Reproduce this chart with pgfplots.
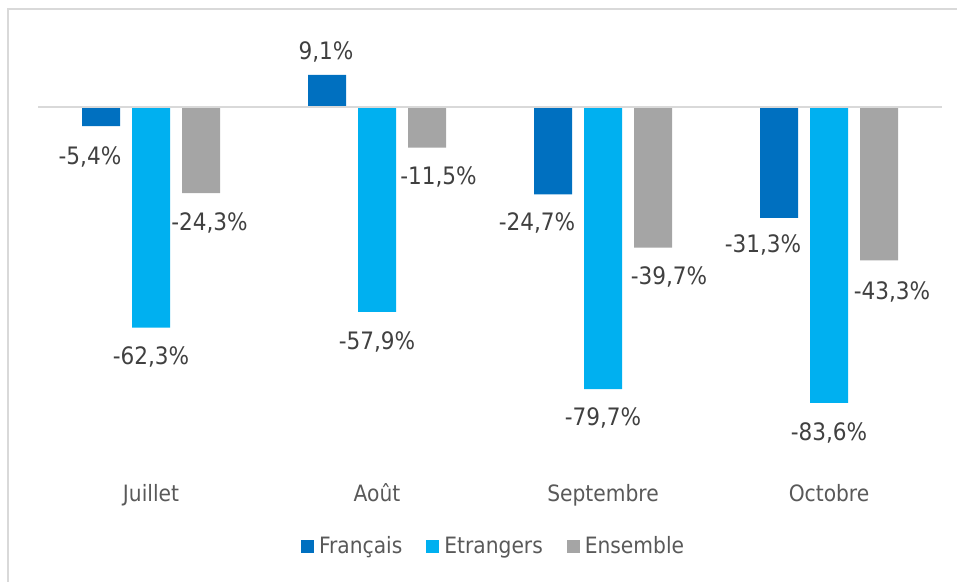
\documentclass[border=0pt]{standalone}
\usepackage{pgfplots}
\pgfplotsset{compat=1.18}
\usepackage{pgfplotstable}
\usepackage{fontspec}
\setmainfont{DejaVu Sans Condensed}
\definecolor{cFr}{HTML}{0070C0}
\definecolor{cEt}{HTML}{00B0F0}
\definecolor{cEn}{HTML}{A5A5A5}
\definecolor{lbl}{HTML}{404040}
\definecolor{axl}{HTML}{595959}
\definecolor{frm}{HTML}{D9D9D9}
\pgfplotstableread{
x y dx dy
0 -5.4 -11 -31
1 9.1 -1 23
2 -24.7 -16 -29
3 -31.3 -16 -27
}\francais
\pgfplotstableread{
x y dx dy
0 -62.3 0 -29.5
1 -57.9 0 -30
2 -79.7 0 -29
3 -83.6 0 -30
}\etrangers
\pgfplotstableread{
x y dx dy
0 -24.3 8.5 -30
1 -11.5 11.5 -29
2 -39.7 16 -29.5
3 -43.3 13 -32
}\ensemble
\begin{document}
\fontsize{22.5}{27}\selectfont
\begin{tikzpicture}
\useasboundingbox (0,0) rectangle (957pt,581pt);
\draw[frm, line width=2pt] (8pt,-5pt) -- (8pt,572pt) -- (962pt,572pt);
\begin{axis}[
  at={(38pt,120pt)}, anchor=south west,
  scale only axis, width=904pt, height=442.5pt,
  xmin=-0.5, xmax=3.5, ymin=-100, ymax=25,
  axis line style={draw=none},
  ytick=\empty,
  xtick={0,1,2,3},
  xticklabels={Juillet,Août,Septembre,Octobre},
  major tick length=0pt,
  xticklabel style={anchor=base, yshift=-40.7pt, text=axl, font=\fontsize{22.5}{27}\selectfont},
  ybar=12pt, bar width=38pt,
  every axis plot/.append style={draw=none},
  nodes near coords={\pgfmathprintnumber[fixed,fixed zerofill,precision=1,use comma,assume math mode=true]{\pgfplotspointmeta}\%},
  visualization depends on={\thisrow{dx} \as \dx},
  visualization depends on={\thisrow{dy} \as \dy},
  every node near coord/.append style={anchor=center, xshift=\dx pt, yshift=\dy pt, text=lbl, font=\fontsize{24}{28}\selectfont},
  legend style={at={(0.504,-0.194)}, anchor=center, draw=none, fill=none, legend columns=-1,
    font=\fontsize{22.5}{27}\selectfont, text=axl,
    /tikz/every even column/.append style={column sep=22pt},
    /tikz/every odd column/.append style={column sep=3pt}},
  legend image code/.code={\fill[#1] (0pt,-6.5pt) rectangle (13pt,6.5pt);},
]
\addplot[fill=cFr] table[x=x,y=y] {\francais};
\addplot[fill=cEt] table[x=x,y=y] {\etrangers};
\addplot[fill=cEn] table[x=x,y=y] {\ensemble};
\draw[frm, line width=1.2pt] (axis cs:-0.5,0) -- (axis cs:3.5,0);
\legend{Français,Etrangers,Ensemble}
\end{axis}
\end{tikzpicture}
\end{document}
